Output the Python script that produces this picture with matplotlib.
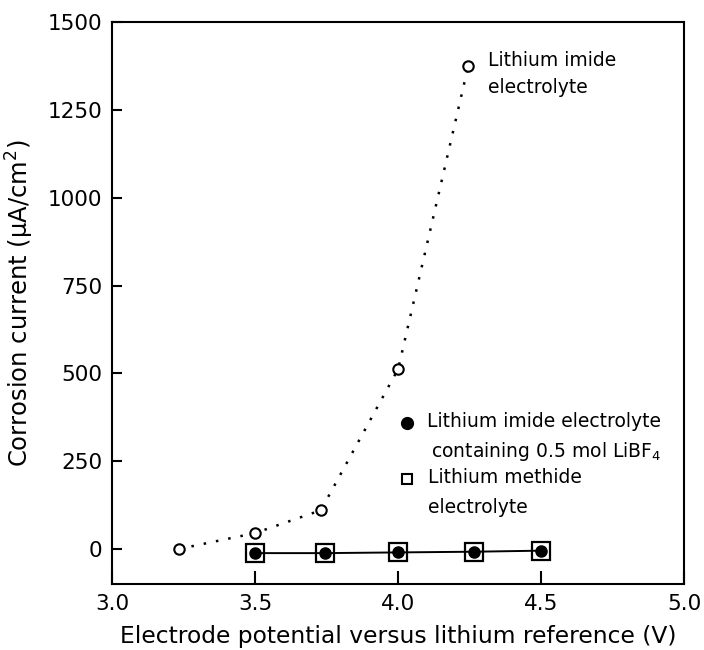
import matplotlib
matplotlib.use("Agg")
import matplotlib.pyplot as plt

plt.rcParams['font.family'] = ['DejaVu Sans']
plt.rcParams['mathtext.default'] = 'regular'

# Data
imide_x = [3.235, 3.5, 3.73, 4.0, 4.245]
imide_y = [0, 45, 110, 512, 1375]
libf4_x = [3.5, 3.745, 4.0, 4.265, 4.5]
libf4_y = [-12, -12, -10, -8, -5]
methide_x = [3.5, 3.745, 4.0, 4.265, 4.5]
methide_y = [-12, -12, -10, -8, -5]

xticks = [3.0, 3.5, 4.0, 4.5, 5.0]
yticks = [0, 250, 500, 750, 1000, 1250, 1500]

fig = plt.figure(figsize=(7.04, 6.5), dpi=100)
ax = fig.add_axes([0.159, 0.1015, 0.813, 0.8645])

ax.plot(imide_x, imide_y, linestyle=(0, (1, 4)), color='black', lw=1.8, zorder=2)
ax.plot(imide_x, imide_y, linestyle='none', marker='o', ms=7.5, mfc='white',
        mec='black', mew=1.5, zorder=3)
ax.plot(methide_x, methide_y, linestyle='none', marker='s', ms=12.5, mfc='white',
        mec='black', mew=1.6, zorder=3)
ax.plot(libf4_x, libf4_y, linestyle='-', color='black', lw=1.4, marker='o', ms=8,
        mfc='black', mec='black', zorder=4)

ax.set_xlim(3.0, 5.0)
ax.set_ylim(-100, 1500)
ax.set_xticks(xticks)
ax.set_xticklabels([f"{v:.1f}" for v in xticks])
ax.set_yticks(yticks)
ax.tick_params(axis='both', direction='in', labelsize=15.5)
ax.tick_params(axis='x', length=9.5, width=1.5, pad=7)
ax.tick_params(axis='y', length=7, width=1.5, pad=7)
for s in ax.spines.values():
    s.set_linewidth(1.5)

ax.set_xlabel('Electrode potential versus lithium reference (V)', fontsize=16.8, labelpad=8)
ax.set_ylabel('Corrosion current (μA/cm$^2$)', fontsize=17.5)
ax.yaxis.set_label_coords(-0.132, 0.5)

# Annotations
fs = 13.5
ax.text(4.315, 1391, 'Lithium imide', fontsize=fs, va='center', ha='left')
ax.text(4.315, 1314, 'electrolyte', fontsize=fs, va='center', ha='left')
ax.plot([4.03], [359], marker='o', ms=8.5, color='black', linestyle='none')
ax.text(4.10, 362, 'Lithium imide electrolyte', fontsize=fs, va='center', ha='left')
ax.text(4.115, 276, 'containing 0.5 mol LiBF$_4$', fontsize=fs, va='center', ha='left')
ax.plot([4.03], [200], marker='s', ms=7.5, mfc='white', mec='black', mew=1.5, linestyle='none')
ax.text(4.103, 202, 'Lithium methide', fontsize=fs, va='center', ha='left')
ax.text(4.103, 119, 'electrolyte', fontsize=fs, va='center', ha='left')

fig.savefig('out.png', dpi=100)
